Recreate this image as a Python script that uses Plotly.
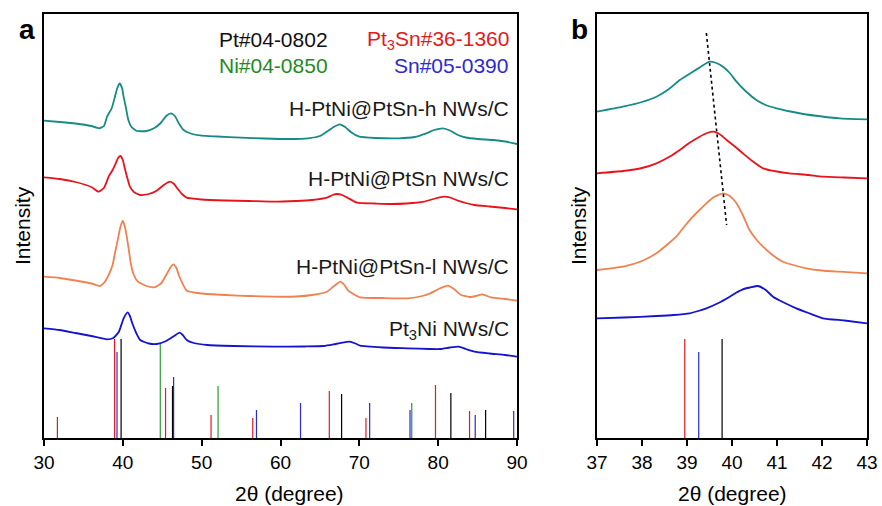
import plotly.graph_objects as go

W, H = 882, 506

# ---------------- panel a data (2theta in degree, intensity a.u.) ----------------
x_h = [30.0, 32.0, 34.0, 36.0, 37.0, 37.6, 38.0, 38.6, 39.0, 39.3, 39.6, 39.9, 40.1, 40.4, 40.7, 41.1, 41.8, 43.0,
       44.0, 44.8, 45.5, 46.1, 46.6, 47.1, 47.7, 48.6, 50.0, 52.0, 55.0, 58.0, 61.0, 63.5, 65.0, 66.0, 66.8, 67.5,
       68.2, 69.0, 70.0, 72.0, 75.0, 77.0, 78.5, 79.5, 80.6, 81.5, 82.5, 83.5, 85.0, 87.0, 88.5, 90.0]
y_h = [317.3, 316, 314.5, 312, 309.7, 312, 321.3, 330, 341.3, 350, 354.7, 350, 341.3, 330, 318, 311, 307, 307,
       310, 315, 322, 324.7, 322, 314.7, 308, 304.5, 302.3, 301.5, 300.3, 299.5, 299, 299.7, 302, 307, 311.3, 313.7,
       311, 305.5, 301.3, 300, 299.7, 301, 304.7, 308, 309.7, 307.5, 303, 300.5, 299, 298, 296.5, 294]

x_m = [30, 32, 34, 36, 36.9, 37.6, 38.2, 38.7, 39.1, 39.4, 39.7, 40.0, 40.2, 40.5, 40.9, 41.4, 42.2, 43.3, 44.3,
       45.2, 46.0, 46.5, 46.9, 47.5, 48.1, 50.0, 53.0, 56.0, 59.1, 62.0, 64.0, 65.9, 66.6, 67.2, 67.8, 68.5, 69.7,
       72.0, 74.0, 76.0, 78.2, 79.6, 80.8, 81.7, 82.5, 83.5, 84.6, 86.5, 88.5, 90]
y_m = [260.7, 259, 256, 251, 246.3, 250, 261.3, 268, 274.7, 280, 282, 278, 271.3, 262, 251.3, 246, 243, 244, 247.3,
       253, 256.3, 254, 249.7, 244, 240.3, 238.5, 237.5, 237, 236.3, 237, 238, 240.3, 243, 244, 243, 240.3, 235.3,
       234.5, 234, 234.5, 236.3, 239.5, 241.3, 240, 237.3, 235, 233, 231.5, 230, 228.7]

x_l = [30, 32, 34, 36, 37.1, 37.7, 38.2, 38.7, 39.0, 39.4, 39.7, 40.0, 40.3, 40.5, 40.8, 41.0, 41.4, 41.9, 43.0,
       44.0, 44.9, 45.5, 46.0, 46.4, 46.8, 47.1, 47.6, 48.1, 50.0, 53.0, 56.0, 59.1, 62.0, 64.0, 65.9, 66.8, 67.6,
       68.1, 68.6, 70.1, 73, 76.1, 78.0, 79.0, 80.2, 81.2, 82.0, 82.9, 84.0, 84.8, 85.6, 86.7, 88.5, 90]
y_l = [161.3, 160, 157.5, 154.5, 152, 156, 163, 173, 184.7, 200, 211.3, 217.3, 210, 201.3, 186, 174.7, 163, 156.3, 152,
       150.7, 155, 163, 170, 173.7, 170, 163, 154, 147.3, 144.5, 143, 142, 141.3, 141.5, 143, 146.3, 152, 156.3,
       153, 147.3, 140.7, 140, 139.7, 142, 144.7, 149.5, 152.3, 149, 143, 141, 142, 143.7, 140.7, 139, 137.3]

x_n = [30, 32, 34, 36, 38.0, 38.8, 39.5, 40.1, 40.6, 40.9, 41.2, 41.7, 42.2, 43.3, 44.3, 45.5, 46.5, 47.2, 47.6,
       48.1, 49.0, 50.7, 54, 59.1, 63, 65.5, 67.0, 68.7, 69.5, 70.1, 73, 76.1, 79, 80.3, 81.5, 82.6, 83.5, 84.6,
       86.5, 88.5, 90]
y_n = [109.7, 108, 105, 102, 98.7, 100, 106.3, 119.7, 125.7, 122, 114.7, 105, 98, 94.5, 94, 97, 102, 105.3, 103,
       98, 95, 93, 92, 91.3, 91.5, 92, 94, 96.3, 94.5, 92.3, 90.5, 89.7, 89, 89, 90.5, 91.3, 89, 86.3,
       84.5, 83, 81.3]

# ---------------- panel b data ----------------
xb_h = [37.0, 37.58, 38.0, 38.32, 38.6, 38.84, 39.13, 39.3, 39.5, 39.65, 39.8, 39.95, 40.1, 40.3, 40.54, 40.75,
        40.99, 41.3, 41.58, 42.0, 42.39, 43.0]
yb_h = [326.3, 331.3, 336, 341.3, 349, 358, 366.3, 371, 376.3, 375, 371.3, 365, 356.3, 347, 338, 333,
        329.7, 326.5, 324, 321.5, 319.7, 318.7]

xb_m = [37.0, 37.58, 38.0, 38.32, 38.6, 38.84, 39.05, 39.28, 39.45, 39.59, 39.75, 39.88, 40.05, 40.24, 40.45,
        40.69, 41.0, 41.28, 41.7, 42.02, 42.5, 43.0]
yb_m = [264.7, 267, 270, 274.7, 281, 288, 295, 301.3, 305, 306.3, 303, 298, 292, 284.7, 277,
        269.7, 266.5, 264.7, 263, 261.3, 260.5, 259.7]

xb_l = [37.0, 37.58, 38.0, 38.32, 38.55, 38.76, 38.95, 39.13, 39.3, 39.43, 39.6, 39.8, 39.95, 40.1, 40.25, 40.39,
        40.55, 40.69, 40.9, 41.13, 41.4, 41.65, 42.0, 42.39, 43.0]
yb_l = [168, 171.3, 177, 184.7, 193, 201.3, 212, 221.3, 229, 234.7, 241, 244.7, 242, 234.7, 222, 208,
        198, 191.3, 183, 176.3, 172.5, 169.7, 167.5, 166.3, 164.7]

xb_n = [37.0, 37.6, 38.32, 38.7, 39.06, 39.25, 39.43, 39.7, 39.95, 40.1, 40.24, 40.4, 40.58, 40.75, 40.91, 41.15,
        41.43, 41.7, 42.02, 42.5, 43.0]
yb_n = [119.7, 120.5, 122, 123, 124.7, 127, 129.7, 135, 141.3, 145.5, 148.7, 150.5, 152, 148, 141.3, 135.5,
        129.7, 125, 119.7, 117.5, 114.7]

shift_x = [39.43, 39.88]
shift_y = [405, 213]

# ---------------- reference sticks (PDF cards) ----------------
pt_pos = [39.78, 46.3, 67.75, 81.61, 86.02]
pt_int = [99, 52, 44, 45, 28]
pt3sn_pos = [31.7, 38.95, 45.42, 51.19, 56.48, 66.19, 70.84, 79.66, 83.98]
pt3sn_int = [21, 99, 50, 23, 20, 47, 20, 53, 27]
ni_pos = [44.75, 52.08, 76.65]
ni_int = [95, 52, 35]
sn_pos = [39.26, 46.44, 56.95, 62.54, 71.31, 76.43, 84.7, 89.58]
sn_int = [86, 61, 28, 35, 35, 28, 23, 27]

sample_names = ["H-PtNi@PtSn-h NWs/C", "H-PtNi@PtSn NWs/C", "H-PtNi@PtSn-l NWs/C", "Pt<sub>3</sub>Ni NWs/C"]
card_names = ["Pt#04-0802", "Pt<sub>3</sub>Sn#36-1360", "Ni#04-0850", "Sn#05-0390"]

C_TEAL = "#168a84"
C_RED = "#e8131b"
C_ORANGE = "#f08250"
C_BLUE = "#1414cf"
C_PT = "#000000"
C_PT3SN = "#e31a1c"
C_NI = "#2e9a2e"
C_SN = "#2a2ad6"
FONT = "Arial, Liberation Sans, sans-serif"

fig = go.Figure()


def add_curve(x, y, color, xa, ya):
    fig.add_trace(go.Scatter(x=x, y=y, mode="lines",
                             line=dict(color=color, width=1.8, shape="spline", smoothing=0.5),
                             xaxis=xa, yaxis=ya, showlegend=False, hoverinfo="skip"))


def add_sticks(pos, inten, color, xa, ya):
    xs, ys = [], []
    for p, h in zip(pos, inten):
        xs += [p, p, None]
        ys += [0, h, None]
    fig.add_trace(go.Scatter(x=xs, y=ys, mode="lines", line=dict(color=color, width=1.2),
                             xaxis=xa, yaxis=ya, showlegend=False, hoverinfo="skip"))


for xa, ya in (("x", "y"), ("x2", "y2")):
    add_sticks(pt3sn_pos, pt3sn_int, C_PT3SN, xa, ya)
    add_sticks(sn_pos, sn_int, C_SN, xa, ya)
    add_sticks(ni_pos, ni_int, C_NI, xa, ya)
    add_sticks(pt_pos, pt_int, C_PT, xa, ya)

add_curve(x_h, y_h, C_TEAL, "x", "y")
add_curve(x_m, y_m, C_RED, "x", "y")
add_curve(x_l, y_l, C_ORANGE, "x", "y")
add_curve(x_n, y_n, C_BLUE, "x", "y")

add_curve(xb_h, yb_h, C_TEAL, "x2", "y2")
add_curve(xb_m, yb_m, C_RED, "x2", "y2")
add_curve(xb_l, yb_l, C_ORANGE, "x2", "y2")
add_curve(xb_n, yb_n, C_BLUE, "x2", "y2")

fig.add_trace(go.Scatter(x=shift_x, y=shift_y, mode="lines", line=dict(color="black", width=1.6, dash="dot"),
                         xaxis="x2", yaxis="y2", showlegend=False, hoverinfo="skip"))

ydom = [(H - 438) / H, (H - 14) / H]
axis_common = dict(showline=True, mirror=True, linecolor="black", linewidth=2, showgrid=False, zeroline=False,
                   ticks="outside", ticklen=6, tickwidth=2, tickcolor="black", automargin=False,
                   tickfont=dict(family=FONT, size=19, color="black"))
yaxis_common = dict(showline=True, mirror=True, linecolor="black", linewidth=2, showgrid=False, zeroline=False,
                    showticklabels=False, ticks="", range=[0, 424], automargin=False)

fig.update_layout(
    width=W, height=H, autosize=False,
    margin=dict(l=0, r=0, t=0, b=0, pad=0, autoexpand=False),
    paper_bgcolor="white", plot_bgcolor="white", showlegend=False,
    xaxis=dict(domain=[44 / W, 517 / W], range=[30, 90], tickvals=[30, 40, 50, 60, 70, 80, 90], anchor="y",
               **axis_common),
    yaxis=dict(domain=ydom, anchor="x", **yaxis_common),
    xaxis2=dict(domain=[597 / W, 867 / W], range=[37, 43], tickvals=[37, 38, 39, 40, 41, 42, 43], anchor="y2",
                **axis_common),
    yaxis2=dict(domain=ydom, anchor="x2", **yaxis_common),
)


def px_ann(text, x, y, size=21, color="#1a1a1a", xanchor="center", yanchor="middle", bold=False, angle=0):
    if bold:
        text = "<b>" + text + "</b>"
    fig.add_annotation(text=text, x=x / W, y=1 - y / H, xref="paper", yref="paper", showarrow=False,
                       xanchor=xanchor, yanchor=yanchor, textangle=angle,
                       font=dict(family=FONT, size=size, color=color))


px_ann("a", 27, 30, size=28, bold=True, color="black")
px_ann("b", 579, 29, size=28, bold=True, color="black")

px_ann(card_names[0], 217, 40, xanchor="left", color="#111111")
px_ann(card_names[1], 511, 40, xanchor="right", color=C_PT3SN)
px_ann(card_names[2], 217, 65, xanchor="left", color="#1f8b24")
px_ann(card_names[3], 510, 65, xanchor="right", color=C_SN)

px_ann(sample_names[0], 511, 108, xanchor="right")
px_ann(sample_names[1], 511, 179, xanchor="right")
px_ann(sample_names[2], 511, 266, xanchor="right")
px_ann(sample_names[3], 511, 330, xanchor="right")

px_ann("2θ (degree)", 289, 493, color="black")
px_ann("2θ (degree)", 732, 493, color="black")
px_ann("Intensity", 22, 226, angle=-90, color="black")
px_ann("Intensity", 578, 226, angle=-90, color="black")

fig.write_html("out.html")
